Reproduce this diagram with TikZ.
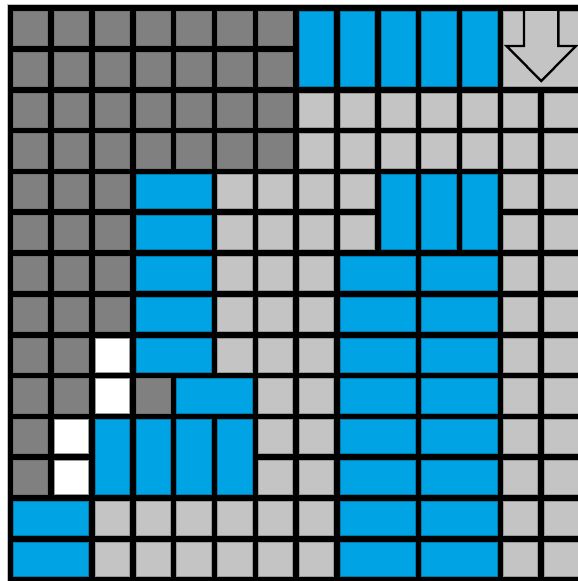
\documentclass[tikz,border=0pt]{standalone}
\usepackage{tikz}
\usetikzlibrary{arrows,shapes}
\definecolor{dgray}{RGB}{128,128,128}
\definecolor{lgray}{RGB}{196,196,196}
\definecolor{cblue}{RGB}{0,163,228}
\tikzstyle{dcell}=[fill=dgray,draw=black!55,line width=0.3pt]
\tikzstyle{lcell}=[fill=lgray,draw=black!40,line width=0.3pt]
\tikzstyle{wcell}=[fill=white,draw=black!40,line width=0.3pt]
\tikzstyle{bcell}=[fill=cblue,draw=black!25!cblue,line width=0.3pt]
\newcommand{\blk}[5]{\filldraw[#1] (#2,#3) rectangle (#4+0.84,#5+0.84);}

\begin{document}
\begin{tikzpicture}[x=40.83pt,y=-40.83pt]
\useasboundingbox (-0.3257,-0.2694) rectangle (13.806,13.96);
\filldraw[fill=black,draw=black!25,line width=0.5pt] (-0.16,-0.16) rectangle (14.2,14.3);
\foreach \c in {0,...,13}{\foreach \r in {0,...,13}{\blk{lcell}{\c}{\r}{\c}{\r}}}
% dark region
\foreach \c in {0,...,6}{\foreach \r in {0,...,3}{\blk{dcell}{\c}{\r}{\c}{\r}}}
\foreach \c in {0,...,2}{\foreach \r in {4,...,7}{\blk{dcell}{\c}{\r}{\c}{\r}}}
\blk{dcell}{0}{8}{0}{8}\blk{dcell}{1}{8}{1}{8}\blk{dcell}{0}{9}{0}{9}\blk{dcell}{1}{9}{1}{9}\blk{dcell}{3}{9}{3}{9}
\blk{dcell}{0}{10}{0}{10}\blk{dcell}{0}{11}{0}{11}
\blk{wcell}{2}{8}{2}{8}\blk{wcell}{2}{9}{2}{9}\blk{wcell}{1}{10}{1}{10}\blk{wcell}{1}{11}{1}{11}
% blue bars
\foreach \c in {7,...,11}{\blk{bcell}{\c}{0}{\c}{1}}
\foreach \c in {9,...,11}{\blk{bcell}{\c}{4}{\c}{5}}
\foreach \c in {2,...,5}{\blk{bcell}{\c}{10}{\c}{11}}
\foreach \r in {4,...,8}{\blk{bcell}{3}{\r}{4}{\r}}
\foreach \r in {6,...,13}{\blk{bcell}{8}{\r}{9}{\r}\blk{bcell}{10}{\r}{11}{\r}}
\blk{bcell}{4}{9}{5}{9}\blk{bcell}{0}{12}{1}{12}\blk{bcell}{0}{13}{1}{13}
% arrow block
\blk{lcell}{12}{0}{13}{1}
\draw[line width=2.3pt,fill=lgray,line join=miter](12.51,0)--(12.51,0.857)--(12.08,0.857)--(12.93,1.714)--(13.78,0.857)--(13.35,0.857)--(13.35,0);
\end{tikzpicture}
\end{document}
